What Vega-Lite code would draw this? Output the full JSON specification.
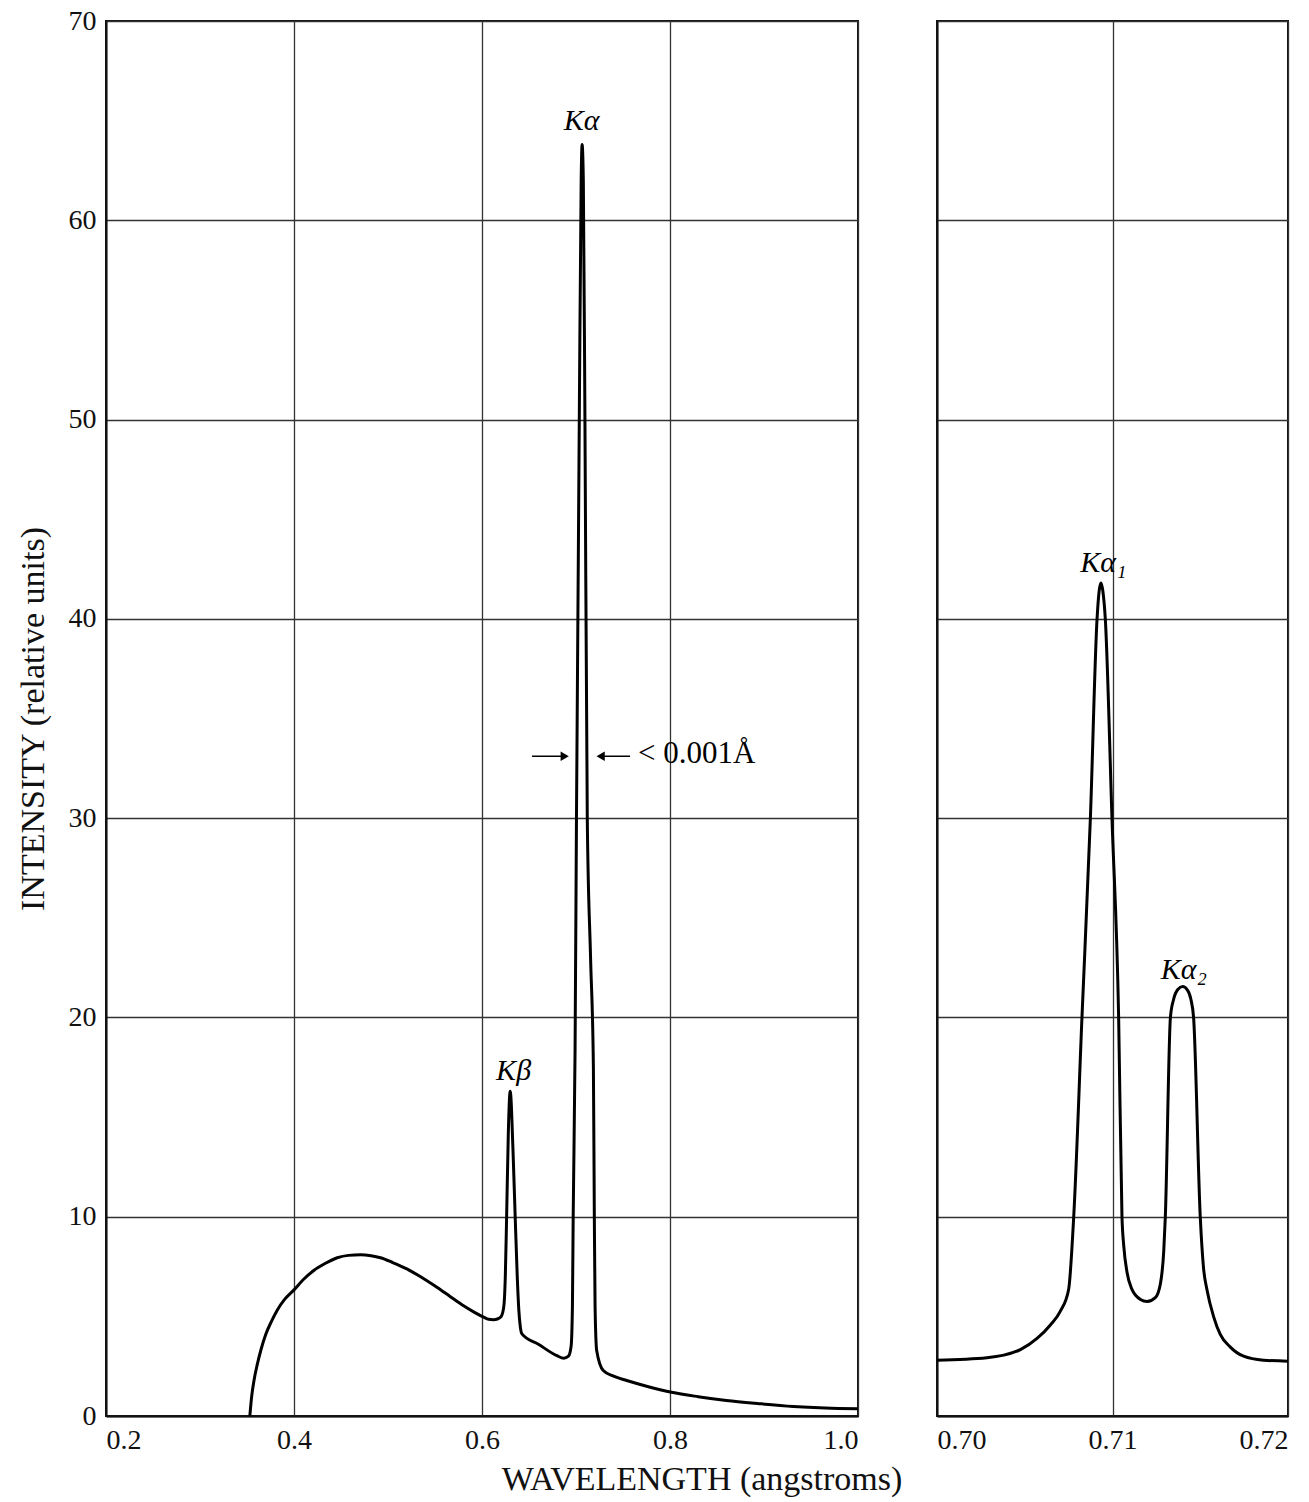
{
  "$schema": "https://vega.github.io/schema/vega-lite/v6.json",
  "background": "white",
  "padding": {"left": 15, "top": 6, "right": 15, "bottom": 4},
  "datasets": {
    "left": [
      {"wavelength": 0.353, "intensity": 0},
      {"wavelength": 0.355, "intensity": 1.0},
      {"wavelength": 0.3575, "intensity": 1.8},
      {"wavelength": 0.361, "intensity": 2.6},
      {"wavelength": 0.365, "intensity": 3.35},
      {"wavelength": 0.37, "intensity": 4.1},
      {"wavelength": 0.376, "intensity": 4.75},
      {"wavelength": 0.382, "intensity": 5.3},
      {"wavelength": 0.39, "intensity": 5.85},
      {"wavelength": 0.4, "intensity": 6.33},
      {"wavelength": 0.41, "intensity": 6.85},
      {"wavelength": 0.421, "intensity": 7.3},
      {"wavelength": 0.433, "intensity": 7.65},
      {"wavelength": 0.446, "intensity": 7.94},
      {"wavelength": 0.458, "intensity": 8.06},
      {"wavelength": 0.471, "intensity": 8.09},
      {"wavelength": 0.482, "intensity": 8.04},
      {"wavelength": 0.492, "intensity": 7.94},
      {"wavelength": 0.505, "intensity": 7.7},
      {"wavelength": 0.52, "intensity": 7.38},
      {"wavelength": 0.536, "intensity": 6.95},
      {"wavelength": 0.552, "intensity": 6.46},
      {"wavelength": 0.566, "intensity": 6.0},
      {"wavelength": 0.58, "intensity": 5.54},
      {"wavelength": 0.592, "intensity": 5.2},
      {"wavelength": 0.6017, "intensity": 4.96},
      {"wavelength": 0.607, "intensity": 4.85},
      {"wavelength": 0.612, "intensity": 4.83},
      {"wavelength": 0.617, "intensity": 4.88},
      {"wavelength": 0.6205, "intensity": 5.0},
      {"wavelength": 0.6232, "intensity": 5.5},
      {"wavelength": 0.6248, "intensity": 7.0},
      {"wavelength": 0.6262, "intensity": 10},
      {"wavelength": 0.628, "intensity": 14.2},
      {"wavelength": 0.63, "intensity": 16.3},
      {"wavelength": 0.633, "intensity": 13.3},
      {"wavelength": 0.6353, "intensity": 10},
      {"wavelength": 0.6375, "intensity": 7.0},
      {"wavelength": 0.6392, "intensity": 5.3},
      {"wavelength": 0.6407, "intensity": 4.5},
      {"wavelength": 0.6425, "intensity": 4.12},
      {"wavelength": 0.66, "intensity": 3.6},
      {"wavelength": 0.6796, "intensity": 3.03},
      {"wavelength": 0.687, "intensity": 2.9},
      {"wavelength": 0.692, "intensity": 3.0},
      {"wavelength": 0.6948, "intensity": 3.5},
      {"wavelength": 0.6962, "intensity": 5.5},
      {"wavelength": 0.697, "intensity": 10},
      {"wavelength": 0.699, "intensity": 18.3},
      {"wavelength": 0.7005, "intensity": 30},
      {"wavelength": 0.7035, "intensity": 50},
      {"wavelength": 0.7055, "intensity": 62},
      {"wavelength": 0.7065, "intensity": 63.8},
      {"wavelength": 0.7078, "intensity": 62},
      {"wavelength": 0.7095, "intensity": 50},
      {"wavelength": 0.712, "intensity": 30},
      {"wavelength": 0.7155, "intensity": 23},
      {"wavelength": 0.7185, "intensity": 17.5},
      {"wavelength": 0.7195, "intensity": 10},
      {"wavelength": 0.7203, "intensity": 5.5},
      {"wavelength": 0.722, "intensity": 3.29},
      {"wavelength": 0.729, "intensity": 2.28},
      {"wavelength": 0.74, "intensity": 2.0},
      {"wavelength": 0.754, "intensity": 1.78},
      {"wavelength": 0.777, "intensity": 1.47},
      {"wavelength": 0.8017, "intensity": 1.19},
      {"wavelength": 0.83, "intensity": 0.97},
      {"wavelength": 0.86, "intensity": 0.78},
      {"wavelength": 0.895, "intensity": 0.62},
      {"wavelength": 0.931, "intensity": 0.48},
      {"wavelength": 0.965, "intensity": 0.4},
      {"wavelength": 1.0, "intensity": 0.36}
    ],
    "right": [
      {"wavelength": 0.7, "intensity": 2.8},
      {"wavelength": 0.70285, "intensity": 2.92},
      {"wavelength": 0.70475, "intensity": 3.33},
      {"wavelength": 0.7057, "intensity": 3.89},
      {"wavelength": 0.70646, "intensity": 4.57},
      {"wavelength": 0.70703, "intensity": 5.26},
      {"wavelength": 0.7075, "intensity": 6.35},
      {"wavelength": 0.70779, "intensity": 10},
      {"wavelength": 0.70826, "intensity": 20},
      {"wavelength": 0.70874, "intensity": 30},
      {"wavelength": 0.70912, "intensity": 40},
      {"wavelength": 0.70924, "intensity": 41.4},
      {"wavelength": 0.70934, "intensity": 41.8},
      {"wavelength": 0.70945, "intensity": 41.4},
      {"wavelength": 0.70959, "intensity": 40},
      {"wavelength": 0.70997, "intensity": 30},
      {"wavelength": 0.71035, "intensity": 20},
      {"wavelength": 0.71054, "intensity": 10},
      {"wavelength": 0.71064, "intensity": 8.55},
      {"wavelength": 0.71083, "intensity": 7.2},
      {"wavelength": 0.71111, "intensity": 6.35},
      {"wavelength": 0.71159, "intensity": 5.85},
      {"wavelength": 0.71197, "intensity": 5.75},
      {"wavelength": 0.71244, "intensity": 5.94},
      {"wavelength": 0.71273, "intensity": 6.64},
      {"wavelength": 0.71292, "intensity": 8.28},
      {"wavelength": 0.71301, "intensity": 10},
      {"wavelength": 0.7133, "intensity": 20},
      {"wavelength": 0.71348, "intensity": 20.9},
      {"wavelength": 0.71372, "intensity": 21.4},
      {"wavelength": 0.714, "intensity": 21.55},
      {"wavelength": 0.71425, "intensity": 21.4},
      {"wavelength": 0.71447, "intensity": 20.9},
      {"wavelength": 0.71462, "intensity": 20},
      {"wavelength": 0.715, "intensity": 10},
      {"wavelength": 0.71519, "intensity": 7.4},
      {"wavelength": 0.71538, "intensity": 6.35},
      {"wavelength": 0.71576, "intensity": 4.99},
      {"wavelength": 0.71614, "intensity": 4.1},
      {"wavelength": 0.7167, "intensity": 3.47},
      {"wavelength": 0.71747, "intensity": 3.0},
      {"wavelength": 0.7186, "intensity": 2.8},
      {"wavelength": 0.72, "intensity": 2.75}
    ],
    "leftPeaks": [
      {"wavelength": 0.706, "intensity": 65.0, "label": "Kα"},
      {"wavelength": 0.6336, "intensity": 17.3, "label": "Kβ"}
    ],
    "note": [
      {"wavelength": 0.766, "intensity": 33.2, "label": "< 0.001Å"}
    ],
    "arrowShafts": [
      {"wavelength": 0.6532, "wavelength2": 0.6900, "intensity": 33.1},
      {"wavelength": 0.7240, "wavelength2": 0.7575, "intensity": 33.1}
    ],
    "arrowHeads": [
      {"wavelength": 0.6880, "intensity": 33.1, "direction": "right"},
      {"wavelength": 0.7262, "intensity": 33.1, "direction": "left"}
    ],
    "rightPeaks": [
      {"wavelength": 0.70948, "intensity": 42.8, "label": "Kα₁"},
      {"wavelength": 0.71406, "intensity": 22.4, "label": "Kα₂"}
    ]
  },
  "hconcat": [
    {
      "width": 752,
      "height": 1395,
      "encoding": {
        "x": {
          "field": "wavelength", "type": "quantitative",
          "scale": {"domain": [0.2, 1.0], "nice": false, "zero": false},
          "axis": {"values": [0.2, 0.4, 0.6, 0.8, 1.0], "format": ".1f", "title": null, "labelFlush": true}
        },
        "y": {
          "field": "intensity", "type": "quantitative",
          "scale": {"domain": [0, 70], "nice": false},
          "axis": {"values": [0, 10, 20, 30, 40, 50, 60, 70], "format": "d", "title": "INTENSITY (relative units)", "titlePadding": 18}
        }
      },
      "layer": [
        {
          "data": {"name": "left"},
          "mark": {"type": "line", "interpolate": "monotone", "color": "black", "strokeWidth": 3}
        },
        {
          "data": {"name": "leftPeaks"},
          "mark": {"type": "text", "fontStyle": "italic", "fontSize": 30, "color": "black", "baseline": "middle", "align": "center"},
          "encoding": {"text": {"field": "label"}}
        },
        {
          "data": {"name": "note"},
          "mark": {"type": "text", "fontSize": 31, "color": "black", "baseline": "middle", "align": "left"},
          "encoding": {"text": {"field": "label"}}
        },
        {
          "data": {"name": "arrowShafts"},
          "mark": {"type": "rule", "color": "black", "strokeWidth": 1.5},
          "encoding": {"x2": {"field": "wavelength2"}}
        },
        {
          "data": {"name": "arrowHeads"},
          "mark": {"type": "point", "filled": true, "color": "black", "size": 90, "opacity": 1},
          "encoding": {
            "shape": {"field": "direction", "type": "nominal", "scale": {"domain": ["right", "left"], "range": ["triangle-right", "triangle-left"]}, "legend": null}
          }
        }
      ]
    },
    {
      "width": 351,
      "height": 1395,
      "encoding": {
        "x": {
          "field": "wavelength", "type": "quantitative",
          "scale": {"domain": [0.7, 0.72], "nice": false, "zero": false},
          "axis": {"values": [0.7, 0.71, 0.72], "format": ".2f", "title": null, "labelFlush": true}
        },
        "y": {
          "field": "intensity", "type": "quantitative",
          "scale": {"domain": [0, 70], "nice": false},
          "axis": {"values": [0, 10, 20, 30, 40, 50, 60, 70], "labels": false, "title": null}
        }
      },
      "layer": [
        {
          "data": {"name": "right"},
          "mark": {"type": "line", "interpolate": "monotone", "color": "black", "strokeWidth": 3}
        },
        {
          "data": {"name": "rightPeaks"},
          "mark": {"type": "text", "fontStyle": "italic", "fontSize": 30, "color": "black", "baseline": "middle", "align": "center"},
          "encoding": {"text": {"field": "label"}}
        }
      ]
    }
  ],
  "spacing": 65,
  "resolve": {"scale": {"x": "independent", "y": "independent", "shape": "independent"}},
  "title": {
    "text": "WAVELENGTH (angstroms)",
    "orient": "bottom",
    "anchor": "middle",
    "offset": 8,
    "dx": 47,
    "fontSize": 34,
    "fontWeight": "normal",
    "font": "Liberation Serif",
    "color": "#111"
  },
  "config": {
    "font": "Liberation Serif",
    "view": {"stroke": "#111", "strokeWidth": 2},
    "axis": {
      "labelFont": "Liberation Serif",
      "labelFontSize": 28,
      "labelColor": "#111",
      "labelPadding": 10,
      "titleFont": "Liberation Serif",
      "titleFontSize": 34,
      "titleFontWeight": "normal",
      "titleColor": "#111",
      "ticks": false,
      "domainColor": "#111",
      "domainWidth": 2,
      "grid": true,
      "gridColor": "#333",
      "gridWidth": 1.3,
      "gridOpacity": 1
    },
    "text": {"font": "Liberation Serif"}
  }
}
